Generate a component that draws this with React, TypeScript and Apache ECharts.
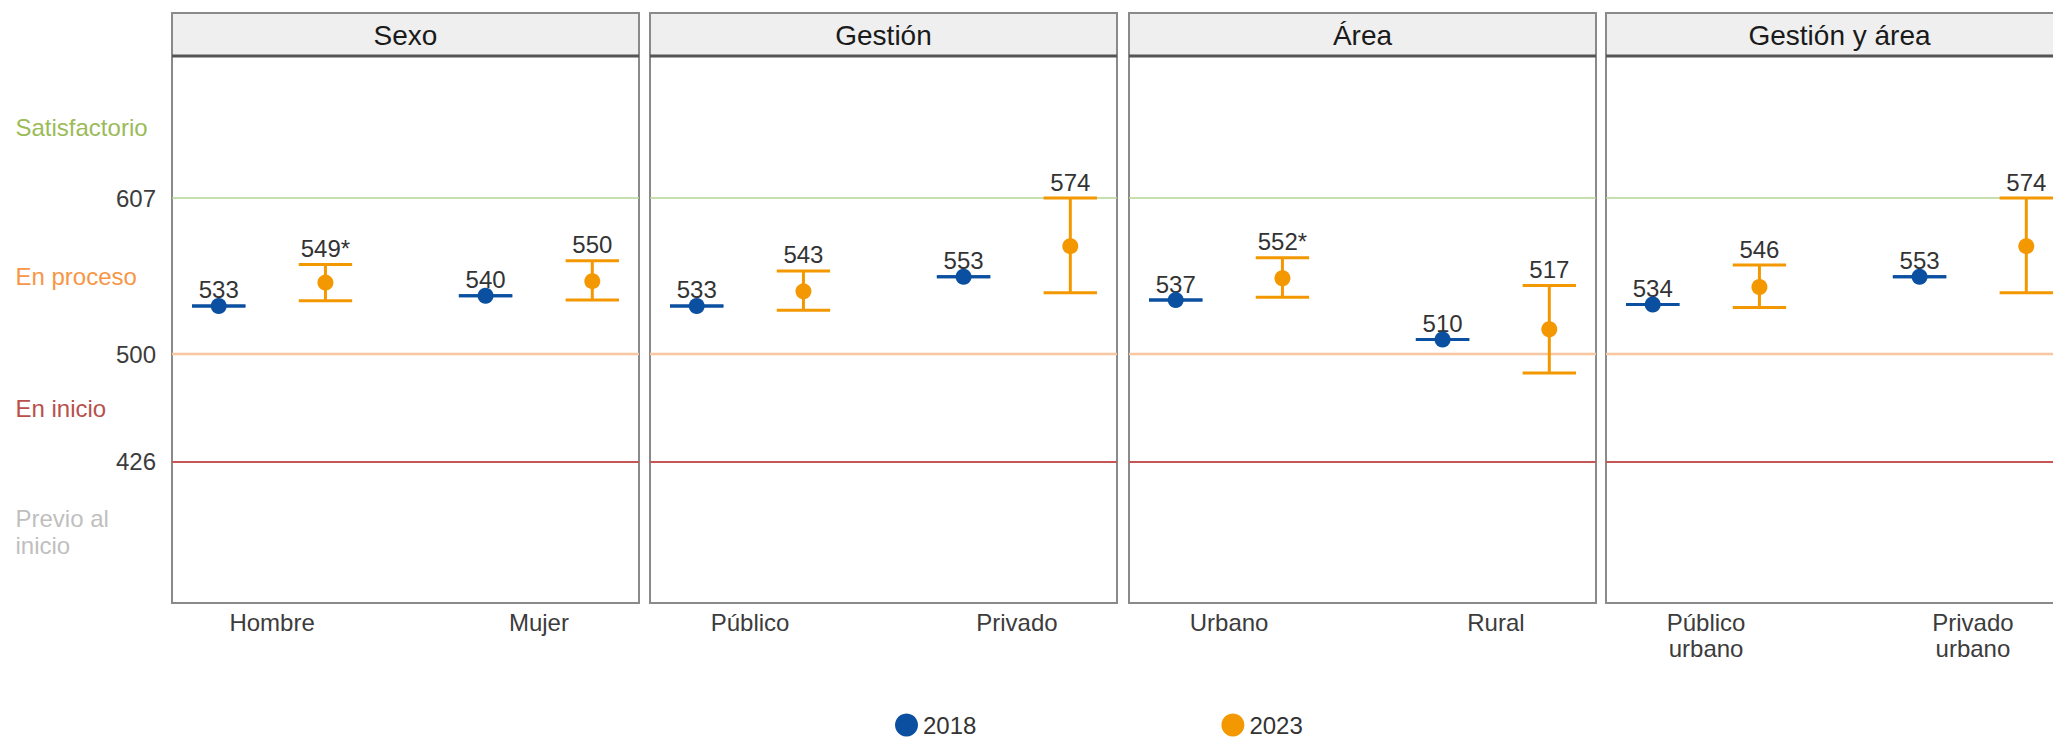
import React, { useEffect, useRef } from "react";
import * as echarts from "echarts";

// ---------- data ----------
const panelTitles = ["Sexo", "Gestión", "Área", "Gestión y área"];
const categoryLabels = [
  ["Hombre", "Mujer"],
  ["Público", "Privado"],
  ["Urbano", "Rural"],
  ["Público\nurbano", "Privado\nurbano"],
];
const years = ["2018", "2023"];
const score2018 = [
  [533, 540],
  [533, 553],
  [537, 510],
  [534, 553],
];
const score2023 = [
  [549, 550],
  [543, 574],
  [552, 517],
  [546, 574],
];
const lower2023 = [
  [536.5, 537],
  [530, 542],
  [539, 487],
  [532, 542],
];
const upper2023 = [
  [561.5, 564],
  [557, 607],
  [566, 547],
  [561, 607],
];
const significant2023 = [
  [true, false],
  [false, false],
  [true, false],
  [false, false],
];
const thresholds = [607, 500, 426];
const levelNames = ["Satisfactorio", "En proceso", "En inicio", "Previo al\ninicio"];

// ---------- style / layout ----------
const FONT = "Liberation Sans, Arial, sans-serif";
const BLUE = "#0A4FA0";
const ORANGE = "#F39800";
const thresholdColors = ["#B3D495", "#F8C6A0", "#C45656"];
const thresholdWidths = [1.5, 2.5, 2];
const levelColors = ["#9BBB59", "#F79646", "#B8504B", "#BFBFBF"];
const Y_MIN = 329.3;
const Y_MAX = 704.4;
const X_MIN = 0.625;
const X_MAX = 2.375;
const DODGE = 0.2;
const CAP_HALF = 0.1;
const PANEL_LEFT = [172, 650, 1129, 1606];
const PANEL_W = 467;
const PANEL_TOP = 56;
const PANEL_H = 547;
const STRIP_TOP = 13;

const bounds = [Y_MAX, ...thresholds, Y_MIN];
const levelMids = levelNames.map((_, i) => (bounds[i] + bounds[i + 1]) / 2);

function nearestIndex(arr: number[], v: number) {
  let best = 0;
  arr.forEach((a, i) => {
    if (Math.abs(a - v) < Math.abs(arr[best] - v)) best = i;
  });
  return best;
}

function errorBarSeries(p: number, yearIdx: number) {
  const color = yearIdx === 0 ? BLUE : ORANGE;
  const xs = categoryLabels[p].map((_, i) => i + 1 + (yearIdx === 0 ? -DODGE : DODGE));
  const los = yearIdx === 0 ? score2018[p] : lower2023[p];
  const his = yearIdx === 0 ? score2018[p] : upper2023[p];
  const labels =
    yearIdx === 0
      ? score2018[p].map((v) => String(v))
      : score2023[p].map((v, i) => String(v) + (significant2023[p][i] ? "*" : ""));
  return {
    type: "custom",
    name: "eb" + years[yearIdx] + "_" + p,
    xAxisIndex: p,
    yAxisIndex: p,
    silent: true,
    z: 3,
    data: xs.map((x, i) => [x, los[i], his[i]]),
    renderItem: (params: any, api: any) => {
      const x = api.value(0);
      const lo = api.value(1);
      const hi = api.value(2);
      const pLo = api.coord([x, lo]);
      const pHi = api.coord([x, hi]);
      const hw = api.size([CAP_HALF, 0])[0];
      const ls = { stroke: color, lineWidth: 3 };
      const children: any[] = [];
      if (Math.abs(pLo[1] - pHi[1]) > 0.5) {
        children.push({ type: "line", shape: { x1: pLo[0], y1: pLo[1], x2: pHi[0], y2: pHi[1] }, style: ls });
      }
      children.push({ type: "line", shape: { x1: pLo[0] - hw, y1: pLo[1], x2: pLo[0] + hw, y2: pLo[1] }, style: ls });
      children.push({ type: "line", shape: { x1: pHi[0] - hw, y1: pHi[1], x2: pHi[0] + hw, y2: pHi[1] }, style: ls });
      children.push({
        type: "text",
        x: pHi[0],
        y: pHi[1] - 16,
        style: {
          text: labels[params.dataIndex],
          fill: "#333333",
          fontSize: 24,
          fontFamily: FONT,
          align: "center",
          verticalAlign: "middle",
          textAlign: "center",
          textVerticalAlign: "middle",
        },
      });
      return { type: "group", children };
    },
  };
}

export default function App() {
  const ref = useRef<HTMLDivElement>(null);

  useEffect(() => {
    if (!ref.current) return;
    const chart = echarts.init(ref.current, undefined, { renderer: "svg" });

    const grids = PANEL_LEFT.map((left) => ({
      left,
      top: PANEL_TOP,
      width: PANEL_W,
      height: PANEL_H,
      show: true,
      borderColor: "#8a8a8a",
      borderWidth: 2,
      backgroundColor: "transparent",
      containLabel: false,
      outerBoundsMode: "none",
    }));

    const xAxes = PANEL_LEFT.map((_, p) => ({
      type: "value",
      gridIndex: p,
      min: X_MIN,
      max: X_MAX,
      axisLine: { show: false },
      axisTick: { show: false },
      splitLine: { show: false },
      axisLabel: {
        customValues: [1, 2],
        formatter: (v: number) => categoryLabels[p][Math.round(v) - 1] ?? "",
        fontSize: 24,
        fontFamily: FONT,
        color: "#3C3C3C",
        margin: 6,
        lineHeight: 26,
      },
    }));

    const yAxes: any[] = PANEL_LEFT.map((_, p) => ({
      type: "value",
      gridIndex: p,
      position: "left",
      min: Y_MIN,
      max: Y_MAX,
      axisLine: { show: false },
      axisTick: { show: false },
      splitLine: { show: false },
      axisLabel:
        p === 0
          ? {
              customValues: thresholds,
              fontSize: 24,
              fontFamily: FONT,
              color: "#3C3C3C",
              margin: 16,
            }
          : { show: false },
    }));
    yAxes.push({
      type: "value",
      gridIndex: 0,
      position: "left",
      min: Y_MIN,
      max: Y_MAX,
      axisLine: { show: false },
      axisTick: { show: false },
      splitLine: { show: false },
      axisLabel: {
        customValues: levelMids,
        formatter: (v: number) => levelNames[nearestIndex(levelMids, v)],
        color: (v: any) => levelColors[nearestIndex(levelMids, Number(v))],
        align: "left",
        margin: 156.5,
        fontSize: 24,
        lineHeight: 27,
        fontFamily: FONT,
      },
    });

    const series: any[] = [];
    PANEL_LEFT.forEach((_, p) => {
      thresholds.forEach((t, k) => {
        series.push({
          type: "line",
          name: "thr" + p + "_" + k,
          xAxisIndex: p,
          yAxisIndex: p,
          data: [
            [X_MIN, t],
            [X_MAX, t],
          ],
          symbol: "none",
          silent: true,
          z: 1,
          lineStyle: { color: thresholdColors[k], width: thresholdWidths[k] },
        });
      });
      series.push(errorBarSeries(p, 0));
      series.push(errorBarSeries(p, 1));
      series.push({
        type: "scatter",
        name: years[0],
        xAxisIndex: p,
        yAxisIndex: p,
        symbol: "circle",
        symbolSize: 16,
        z: 4,
        itemStyle: { color: BLUE, opacity: 1 },
        data: score2018[p].map((v, i) => [i + 1 - DODGE, v]),
      });
      series.push({
        type: "scatter",
        name: years[1],
        xAxisIndex: p,
        yAxisIndex: p,
        symbol: "circle",
        symbolSize: 16,
        z: 4,
        itemStyle: { color: ORANGE, opacity: 1 },
        data: score2023[p].map((v, i) => [i + 1 + DODGE, v]),
      });
    });

    const graphics: any[] = [];
    PANEL_LEFT.forEach((left, p) => {
      graphics.push({
        type: "rect",
        shape: { x: left, y: STRIP_TOP, width: PANEL_W, height: PANEL_TOP - STRIP_TOP },
        style: { fill: "#EFEFEF", stroke: "#8a8a8a", lineWidth: 2 },
        z: 10,
      });
      graphics.push({
        type: "line",
        shape: { x1: left, y1: PANEL_TOP, x2: left + PANEL_W, y2: PANEL_TOP },
        style: { stroke: "#555555", lineWidth: 3 },
        z: 11,
      });
      graphics.push({
        type: "text",
        x: left + PANEL_W / 2,
        y: (STRIP_TOP + PANEL_TOP) / 2 + 1,
        style: {
          text: panelTitles[p],
          fill: "#1A1A1A",
          fontSize: 28,
          fontFamily: FONT,
          align: "center",
          verticalAlign: "middle",
          textAlign: "center",
          textVerticalAlign: "middle",
        },
        z: 12,
      });
    });

    chart.setOption({
      animation: false,
      backgroundColor: "#FFFFFF",
      textStyle: { fontFamily: FONT },
      grid: grids,
      xAxis: xAxes,
      yAxis: yAxes,
      series,
      graphic: graphics,
      legend: {
        data: years.map((y) => ({ name: y, icon: "circle", itemStyle: { opacity: 1 } })),
        left: 895,
        top: 713,
        padding: 0,
        itemWidth: 23,
        itemHeight: 23,
        itemGap: 245,
        selectedMode: false,
        textStyle: { fontSize: 24, color: "#333333", fontFamily: FONT },
      },
    });

    return () => chart.dispose();
  }, []);

  return (
    <div
      ref={ref}
      style={{ position: "fixed", left: 0, top: 0, width: 2053, height: 738, background: "#fff" }}
    />
  );
}
